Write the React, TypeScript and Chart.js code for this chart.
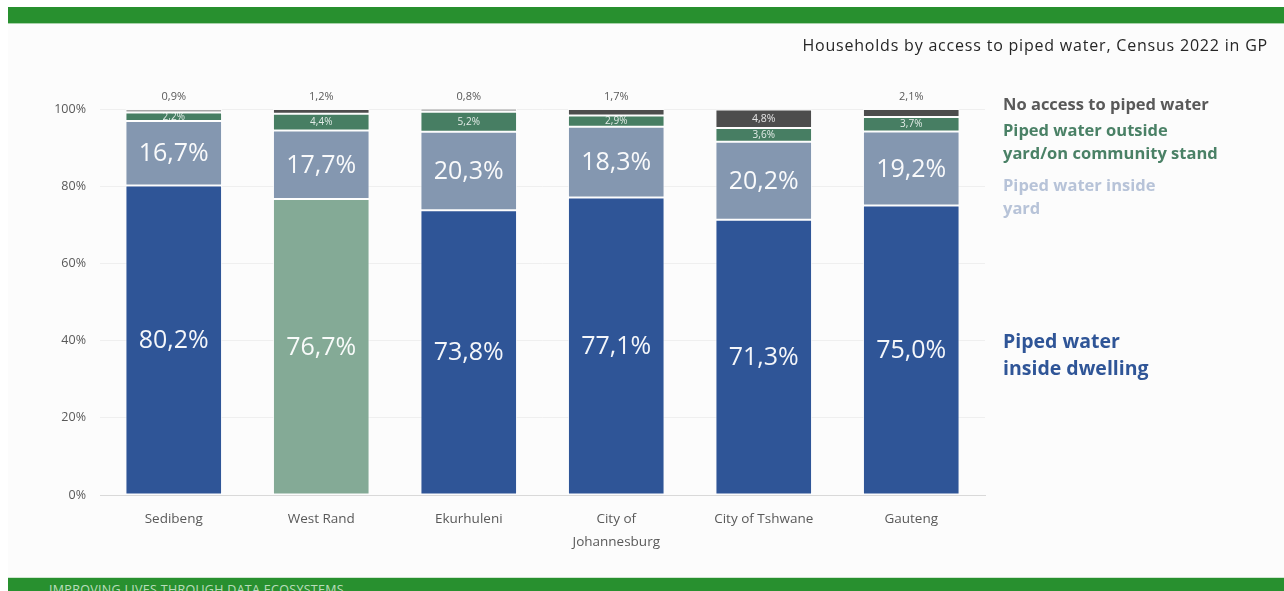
import React, { useEffect, useRef } from "react";
import { Chart, registerables } from "chart.js";

Chart.register(...registerables);

const categories: string[][] = [["Sedibeng"], ["West Rand"], ["Ekurhuleni"], ["City of", "Johannesburg"], ["City of Tshwane"], ["Gauteng"]];
const insideDwelling = [80.2, 76.7, 73.8, 77.1, 71.3, 75.0];
const insideYard = [16.7, 17.7, 20.3, 18.3, 20.2, 19.2];
const outsideYard = [2.2, 4.4, 5.2, 2.9, 3.6, 3.7];
const noAccess = [0.9, 1.2, 0.8, 1.7, 4.8, 2.1];
const yTicks = [0, 20, 40, 60, 80, 100];

const seriesNames = [
  "Piped water inside dwelling",
  "Piped water inside yard",
  "Piped water outside yard/on community stand",
  "No access to piped water",
];

const dwellingColors = ["#2F5597", "#84AA96", "#2F5597", "#2F5597", "#2F5597", "#2F5597"];
const yardColor = "#8497B0";
const outsideColor = "#477E63";
const noAccessColors = ["#A6A6A6", "#4D4D4D", "#A6A6A6", "#4D4D4D", "#4D4D4D", "#4D4D4D"];

const FONT = "'Open Sans', 'Noto Sans', sans-serif";

const fmt = (v: number) => v.toFixed(1).replace(".", ",") + "%";

const labelPlugin = {
  id: "segLabels",
  afterDatasetsDraw(chart: any) {
    const ctx = chart.ctx;
    ctx.save();
    ctx.textAlign = "center";
    ctx.textBaseline = "middle";
    chart.data.datasets.forEach((ds: any, i: number) => {
      const meta = chart.getDatasetMeta(i);
      meta.data.forEach((bar: any, j: number) => {
        const p = bar.getProps(["x", "y", "base"], true);
        const v = ds.data[j] as number;
        const h = p.base - p.y;
        const cy = (p.y + p.base) / 2;
        if (i <= 1) {
          ctx.font = `25px ${FONT}`;
          ctx.fillStyle = "rgba(255,255,255,0.95)";
          ctx.fillText(fmt(v), p.x, cy + 1);
        } else if (i === 2) {
          ctx.font = `10px ${FONT}`;
          ctx.fillStyle = "rgba(255,255,255,0.85)";
          ctx.fillText(fmt(v), p.x, cy);
        } else {
          if (h > 14) {
            ctx.font = `10.5px ${FONT}`;
            ctx.fillStyle = "rgba(255,255,255,0.85)";
            ctx.fillText(fmt(v), p.x, cy);
          } else {
            ctx.font = `11px ${FONT}`;
            ctx.fillStyle = "#595959";
            ctx.fillText(fmt(v), p.x, p.y - 12);
          }
        }
      });
    });
    ctx.restore();
  },
};

export default function App() {
  const canvasRef = useRef<HTMLCanvasElement | null>(null);

  useEffect(() => {
    if (!canvasRef.current) return;
    const chart = new Chart(canvasRef.current, {
      type: "bar",
      data: {
        labels: categories,
        datasets: [
          { label: seriesNames[0], data: insideDwelling, backgroundColor: dwellingColors },
          { label: seriesNames[1], data: insideYard, backgroundColor: yardColor },
          { label: seriesNames[2], data: outsideYard, backgroundColor: outsideColor },
          { label: seriesNames[3], data: noAccess, backgroundColor: noAccessColors },
        ].map((d) => ({
          ...d,
          borderColor: "rgba(255,255,255,0.75)",
          borderWidth: 1,
          borderSkipped: false,
          categoryPercentage: 1,
          barPercentage: 0.655,
          clip: false as any,
        })),
      },
      options: {
        responsive: false,
        animation: false,
        devicePixelRatio: 1,
        layout: { padding: { top: 109, right: 299, bottom: 0, left: 0 } },
        plugins: { legend: { display: false }, tooltip: { enabled: false }, title: { display: false } },
        scales: {
          x: {
            stacked: true,
            grid: { display: false, drawTicks: false },
            border: { display: true, color: "#D9D9D9", width: 1 },
            ticks: {
              color: "#595959",
              padding: 13,
              maxRotation: 0,
              autoSkip: false,
              font: { family: FONT, size: 13.5, lineHeight: 1.7 },
            },
            afterFit: (s: any) => {
              s.height = 96;
            },
          },
          y: {
            stacked: true,
            min: 0,
            max: 100,
            afterBuildTicks: (s: any) => {
              s.ticks = yTicks.map((v) => ({ value: v }));
            },
            grid: {
              drawTicks: false,
              color: (c: any) => (c.tick && c.tick.value === 0 ? "rgba(0,0,0,0)" : "#EFEFEF"),
            },
            border: { display: false },
            ticks: {
              color: "#595959",
              padding: 14,
              font: { family: FONT, size: 12.5 },
              callback: (v: any) => v + "%",
            },
            afterFit: (s: any) => {
              s.width = 100;
            },
          },
        },
      },
      plugins: [labelPlugin],
    });
    return () => chart.destroy();
  }, []);

  const legendBase: React.CSSProperties = {
    position: "absolute",
    left: 1003,
    fontFamily: FONT,
    fontWeight: 700,
    whiteSpace: "nowrap",
  };

  return (
    <div
      style={{
        position: "fixed",
        left: 0,
        top: 0,
        width: 1284,
        height: 591,
        background: "#FFFFFF",
        overflow: "hidden",
      }}
    >
      <div style={{ position: "absolute", left: 8, top: 24, width: 1276, height: 554, background: "#FCFCFC" }} />
      <div style={{ position: "absolute", left: 8, top: 7, width: 1276, height: 16, background: "#28902F" }} />
      <div style={{ position: "absolute", left: 8, top: 23, width: 1276, height: 1, background: "#A9D3AB" }} />
      <div style={{ position: "absolute", left: 8, top: 577, width: 1276, height: 1, background: "#CFE6D0" }} />
      <div style={{ position: "absolute", left: 8, top: 578, width: 1276, height: 13, background: "#28902F", overflow: "hidden" }}>
        <div
          style={{
            position: "absolute",
            left: 41,
            top: 5,
            fontFamily: FONT,
            fontSize: 12.5,
            lineHeight: "14px",
            color: "rgba(225,242,225,0.8)",
            letterSpacing: 0.3,
            whiteSpace: "nowrap",
          }}
        >
          IMPROVING LIVES THROUGH DATA ECOSYSTEMS
        </div>
      </div>
      <canvas
        ref={canvasRef}
        width={1284}
        height={591}
        style={{ position: "absolute", left: 0, top: 0, width: 1284, height: 591 }}
      />
      <div
        style={{
          position: "absolute",
          right: 16,
          top: 35,
          fontFamily: FONT,
          fontSize: 16,
          lineHeight: "21px",
          letterSpacing: 0.8,
          color: "#262626",
          whiteSpace: "nowrap",
        }}
      >
        Households by access to piped water, Census 2022 in GP
      </div>
      <div style={{ ...legendBase, top: 92, fontSize: 16.5, lineHeight: "23px", color: "#595959" }}>
        No access to piped water
      </div>
      <div style={{ ...legendBase, top: 118, fontSize: 16.5, lineHeight: "23px", color: "#4A8166" }}>
        Piped water outside
        <br />
        yard/on community stand
      </div>
      <div style={{ ...legendBase, top: 173, fontSize: 16.5, lineHeight: "23px", color: "#B7C3D8" }}>
        Piped water inside
        <br />
        yard
      </div>
      <div style={{ ...legendBase, top: 327, fontSize: 19.5, lineHeight: "27px", color: "#2F5597" }}>
        Piped water
        <br />
        inside dwelling
      </div>
    </div>
  );
}
